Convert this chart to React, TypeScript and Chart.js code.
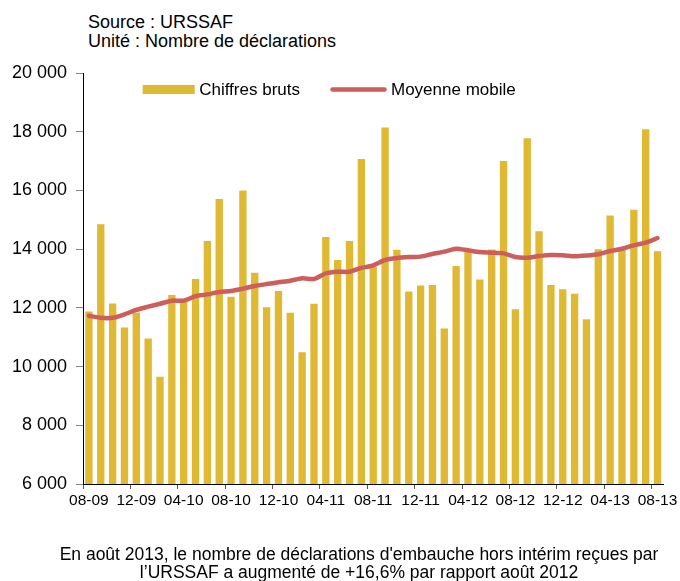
import React, { useEffect, useRef } from "react";
import { Chart, registerables } from "chart.js";

Chart.register(...registerables);

const months: string[] = [
  "08-09", "09-09", "10-09", "11-09", "12-09", "01-10", "02-10", "03-10",
  "04-10", "05-10", "06-10", "07-10", "08-10", "09-10", "10-10", "11-10",
  "12-10", "01-11", "02-11", "03-11", "04-11", "05-11", "06-11", "07-11",
  "08-11", "09-11", "10-11", "11-11", "12-11", "01-12", "02-12", "03-12",
  "04-12", "05-12", "06-12", "07-12", "08-12", "09-12", "10-12", "11-12",
  "12-12", "01-13", "02-13", "03-13", "04-13", "05-13", "06-13", "07-13",
  "08-13",
];

const chiffresBruts: number[] = [
  11880, 14850, 12150, 11330, 11840, 10960, 9650, 12440,
  12210, 12980, 14280, 15710, 12380, 16000, 13200, 12020,
  12570, 11830, 10490, 12140, 14410, 13630, 14280, 17070,
  13400, 18140, 13980, 12560, 12760, 12780, 11300, 13430,
  13920, 12970, 13990, 17000, 11950, 17780, 14610, 12780,
  12630, 12480, 11610, 14000, 15150, 14000, 15340, 18080,
  13930,
];

const moyenneMobile: number[] = [
  11730, 11660, 11660, 11780, 11930, 12040, 12140, 12245,
  12245, 12400, 12460, 12540, 12575, 12655, 12745, 12810,
  12870, 12925, 13005, 12985, 13175, 13230, 13230, 13360,
  13450, 13630, 13700, 13730, 13745, 13835, 13915, 14015,
  13960, 13900, 13880, 13855, 13730, 13710, 13765, 13800,
  13790, 13755, 13780, 13825, 13935, 14015, 14130, 14220,
  14380,
];

const seriesNames: string[] = ["Chiffres bruts", "Moyenne mobile"];
const yTicks: number[] = [6000, 8000, 10000, 12000, 14000, 16000, 18000, 20000];

const BAR_COLOR = "#DFB934";
const LINE_COLOR = "#CD5E5B";
const FONT = "'Liberation Sans', Arial, Helvetica, sans-serif";

const fmt = (v: number) => String(v).replace(/\B(?=(\d{3})+(?!\d))/g, " ");

const inlineLegend = {
  id: "inlineLegend",
  afterDraw(chart: any) {
    const { ctx, chartArea } = chart;
    const y = chartArea.top + 16.5;
    ctx.save();
    ctx.font = `17px ${FONT}`;
    ctx.fillStyle = "#000";
    ctx.textBaseline = "middle";
    ctx.textAlign = "left";
    // bar item
    let x = chartArea.left + 59.7;
    const barDs = chart.data.datasets[1];
    ctx.fillStyle = barDs.backgroundColor;
    ctx.fillRect(x, y - 4.5, 52, 9);
    ctx.fillStyle = "#000";
    ctx.fillText(barDs.label, x + 56.5, y + 0.5);
    // line item
    const lineDs = chart.data.datasets[0];
    x = chartArea.left + 249.5;
    ctx.strokeStyle = lineDs.borderColor;
    ctx.lineWidth = 4.5;
    ctx.lineCap = "round";
    ctx.beginPath();
    ctx.moveTo(x, y);
    ctx.lineTo(x + 52, y);
    ctx.stroke();
    ctx.fillText(lineDs.label, x + 58.5, y + 0.5);
    ctx.restore();
  },
};

export default function App() {
  const canvasRef = useRef<HTMLCanvasElement | null>(null);

  useEffect(() => {
    if (!canvasRef.current) return;
    const chart = new Chart(canvasRef.current, {
      type: "bar",
      data: {
        labels: months,
        datasets: [
          {
            type: "line",
            label: seriesNames[1],
            data: moyenneMobile,
            borderColor: LINE_COLOR,
            backgroundColor: LINE_COLOR,
            borderWidth: 4.5,
            pointRadius: 0,
            tension: 0.25,
            borderCapStyle: "round",
            borderJoinStyle: "round",
            order: 0,
          } as any,
          {
            type: "bar",
            label: seriesNames[0],
            data: chiffresBruts,
            backgroundColor: BAR_COLOR,
            borderWidth: 0,
            barPercentage: 0.62,
            categoryPercentage: 1,
            order: 1,
          } as any,
        ],
      },
      options: {
        animation: false,
        responsive: true,
        maintainAspectRatio: false,
        layout: { padding: { top: 23, right: 15, left: 0, bottom: 0 } },
        plugins: {
          legend: { display: false },
          tooltip: { enabled: false },
          title: { display: false },
        },
        scales: {
          x: {
            type: "category",
            offset: true,
            afterFit: (s: any) => {
              s.height = 30;
            },
            grid: {
              display: true,
              drawOnChartArea: false,
              offset: true,
              tickLength: 5,
              tickColor: (c: any) => (c.index % 4 === 0 ? "#555" : "rgba(0,0,0,0)"),
            },
            border: { display: true, color: "#000", width: 1 },
            ticks: {
              autoSkip: false,
              maxRotation: 0,
              minRotation: 0,
              padding: 2.5,
              color: "#000",
              font: { family: FONT, size: 15.5 },
              callback: (_v: any, i: number) => (i % 4 === 0 ? months[i] : ""),
            },
          },
          y: {
            min: yTicks[0],
            max: yTicks[yTicks.length - 1],
            afterFit: (s: any) => {
              s.width = 83;
            },
            afterBuildTicks: (s: any) => {
              s.ticks = yTicks.map((v) => ({ value: v }));
            },
            grid: {
              display: true,
              drawOnChartArea: false,
              tickLength: 7,
              tickColor: "#888",
            },
            border: { display: true, color: "#000", width: 1 },
            ticks: {
              padding: 9,
              color: "#000",
              font: { family: FONT, size: 18 },
              callback: (v: any) => fmt(Number(v)),
            },
          },
        },
      },
      plugins: [inlineLegend],
    });
    return () => chart.destroy();
  }, []);

  return (
    <div
      style={{
        position: "fixed",
        left: 0,
        top: 0,
        width: 680,
        height: 581,
        background: "#fff",
        fontFamily: FONT,
        color: "#000",
      }}
    >
      <div
        style={{
          position: "absolute",
          left: 88,
          top: 12.5,
          fontSize: 18,
          lineHeight: "19px",
          whiteSpace: "nowrap",
        }}
      >
        <div>Source : URSSAF</div>
        <div>Unité : Nombre de déclarations</div>
      </div>
      <div style={{ position: "absolute", left: 0, top: 50, width: 680, height: 464 }}>
        <canvas ref={canvasRef} />
      </div>
      <div
        style={{
          position: "absolute",
          left: 38,
          top: 546,
          width: 642,
          textAlign: "center",
          fontSize: 17.5,
          lineHeight: "17.5px",
          whiteSpace: "nowrap",
        }}
      >
        <div>En août 2013, le nombre de déclarations d'embauche hors intérim reçues par</div>
        <div>l’URSSAF a augmenté de +16,6% par rapport août 2012</div>
      </div>
    </div>
  );
}
